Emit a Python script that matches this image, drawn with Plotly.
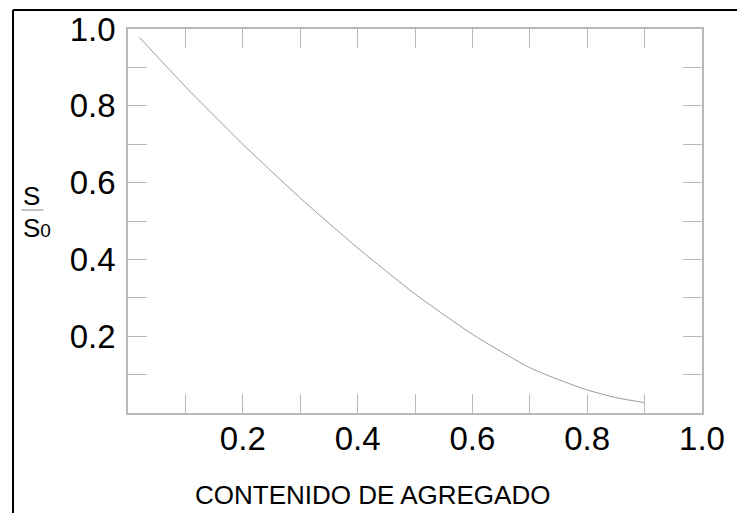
import plotly.graph_objects as go

# Data
x_vals = [0.02, 0.1, 0.2, 0.3, 0.4, 0.5, 0.6, 0.7, 0.75, 0.8, 0.85, 0.9]
y_vals = [0.978, 0.85, 0.70, 0.56, 0.43, 0.31, 0.205, 0.118, 0.087, 0.06, 0.04, 0.027]
x_ticks = [0.2, 0.4, 0.6, 0.8, 1.0]
x_labels = ["0.2", "0.4", "0.6", "0.8", "1.0"]
y_ticks = [0.2, 0.4, 0.6, 0.8, 1.0]
y_labels = ["0.2", "0.4", "0.6", "0.8", "1.0"]
x_title = "CONTENIDO DE AGREGADO"

W, H = 737, 513
# plot area in page pixels: x 128..702, y 29..413
L, T = 128, 29
R = W - 702
B = H - 413
pw = W - L - R
ph = H - T - B

def px2paper_x(px):
    return (px - L) / pw

def px2paper_y(py):
    return (H - B - py) / ph

fig = go.Figure()
fig.add_trace(go.Scatter(
    x=x_vals, y=y_vals, mode="lines",
    line=dict(color="#9a9a9a", width=1, shape="spline", smoothing=0.6),
    hoverinfo="skip", showlegend=False))

FONT = "Liberation Sans, Arial, sans-serif"
frame_col = "#b8b8b8"
axis_common = dict(
    range=[0, 1], showgrid=False, zeroline=False,
    showline=True, linecolor=frame_col, linewidth=1.5, mirror="ticks",
    ticks="inside", ticklen=19, tickwidth=1, tickcolor=frame_col,
    minor=dict(dtick=0.1, tick0=0, ticks="inside", ticklen=19, tickwidth=1, tickcolor=frame_col),
    tickfont=dict(family=FONT, size=33, color="#000"),
    fixedrange=True,
)
fig.update_xaxes(tickvals=x_ticks, ticktext=x_labels, ticklabelstandoff=-4, **axis_common)
fig.update_yaxes(tickvals=y_ticks, ticktext=y_labels, ticklabelstandoff=4, **axis_common)

# outer black border (top and left)
fig.add_shape(type="line", xref="paper", yref="paper",
              x0=px2paper_x(13), y0=px2paper_y(10), x1=px2paper_x(745), y1=px2paper_y(10),
              line=dict(color="#000", width=2))
fig.add_shape(type="line", xref="paper", yref="paper",
              x0=px2paper_x(13), y0=px2paper_y(10), x1=px2paper_x(13), y1=px2paper_y(520),
              line=dict(color="#000", width=2))

# y label as fraction S / S0
fig.add_annotation(xref="paper", yref="paper", x=px2paper_x(21), y=px2paper_y(196),
                   xanchor="left", yanchor="middle", text="S", showarrow=False,
                   font=dict(family=FONT, size=26, color="#000"))
fig.add_shape(type="line", xref="paper", yref="paper",
              x0=px2paper_x(21.5), y0=px2paper_y(210), x1=px2paper_x(43.5), y1=px2paper_y(210),
              line=dict(color="#888", width=1))
fig.add_annotation(xref="paper", yref="paper", x=px2paper_x(21), y=px2paper_y(228),
                   xanchor="left", yanchor="middle",
                   text='S<span style="font-size:19px">0</span>', showarrow=False,
                   font=dict(family=FONT, size=26, color="#000"))

# x title
fig.add_annotation(xref="paper", yref="paper", x=px2paper_x(372.5), y=px2paper_y(495),
                   xanchor="center", yanchor="middle", text=x_title, showarrow=False,
                   font=dict(family=FONT, size=26, color="#000"))

fig.update_layout(
    width=W, height=H,
    margin=dict(l=L, r=R, t=T, b=B),
    paper_bgcolor="white", plot_bgcolor="white",
    showlegend=False,
)
fig.write_html("out.html", config={"displayModeBar": False},
               post_script="document.body.style.margin='0';document.body.style.overflow='hidden';")
